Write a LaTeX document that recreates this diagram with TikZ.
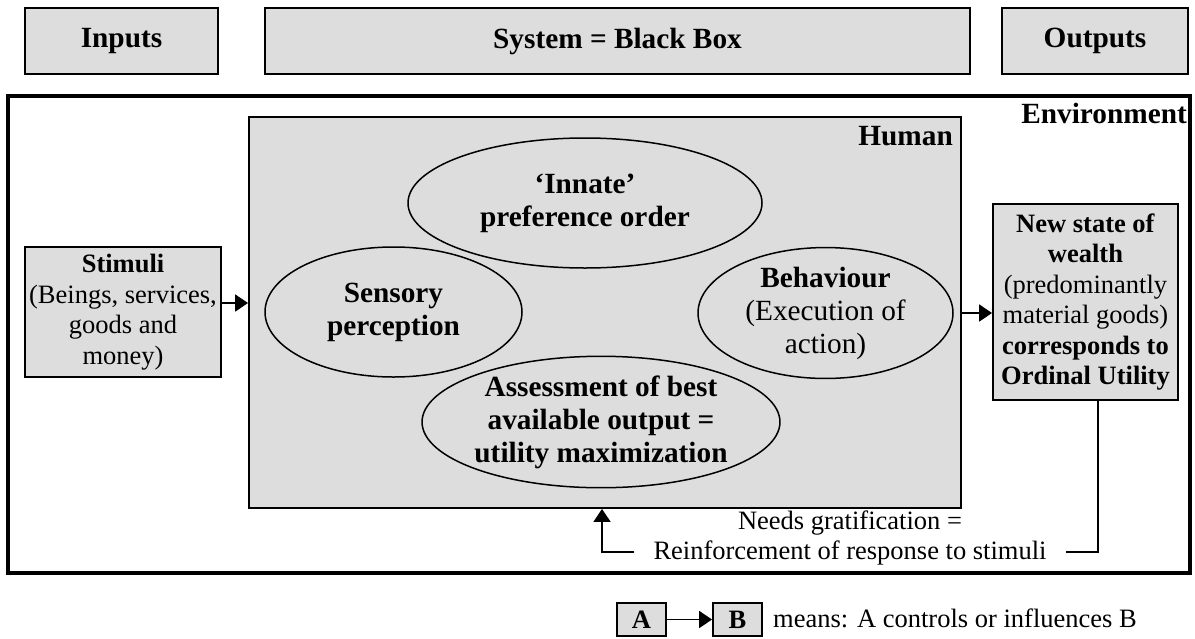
\documentclass[tikz,border=0pt]{standalone}
\usepackage{fontspec}
\setmainfont{Liberation Serif}
\usetikzlibrary{shapes.geometric,arrows.meta}
\definecolor{boxgray}{RGB}{221,221,221}
\begin{document}
\begin{tikzpicture}[x=1pt,y=-1pt,
  txt/.style={font=\fontsize{26.5}{30.5}\selectfont},
  big/.style={font=\fontsize{29.3}{33}\selectfont},
  hdr/.style={draw, line width=2pt, fill=boxgray, inner sep=0pt,
    minimum height=66pt, font=\fontsize{29.3}{33}\selectfont\bfseries},
  gbox/.style={draw, line width=1.8pt, fill=boxgray, inner sep=0pt, align=center, txt},
  oval/.style={ellipse, draw, line width=1.5pt, fill=boxgray, inner sep=0pt, align=center, big},
  link/.style={line width=1.6pt},
  arr/.style={link, -{Triangle[length=13pt,width=17pt]}}
]
\useasboundingbox (0,0) rectangle (1195,638);

% header row
\node[hdr, minimum width=193pt] (inputs)  at (121.5,41) {Inputs};
\node[hdr, minimum width=705pt] (system)  at (617.5,41) {System = Black Box};
\node[hdr, minimum width=186pt] (outputs) at (1095,41)  {Outputs};

% environment frame
\node[draw, line width=4pt, inner sep=0pt, minimum width=1182pt, minimum height=477pt] (env) at (599,334.5) {};
\node[big, font=\fontsize{29.3}{33}\selectfont\bfseries, anchor=base east, inner sep=0pt] (envlabel) at (1187,123) {Environment};

% the human
\node[gbox, minimum width=712pt, minimum height=391pt] (human) at (605,312.5) {};
\node[big, font=\fontsize{29.3}{33}\selectfont\bfseries, anchor=base east, inner sep=0pt] (humanlabel) at (953,145) {Human};

% inner processes
\node[oval, minimum width=354pt, minimum height=130pt] (innate) at (585,203)
  {\textbf{‘Innate’}\\\textbf{preference order}};
\node[oval, minimum width=257pt, minimum height=130pt] (sensory) at (393.5,312)
  {\textbf{Sensory}\\\textbf{perception}};
\node[oval, minimum width=255pt, minimum height=127pt] (behaviour) at (825.5,313)
  {\textbf{Behaviour}\\(Execution of\\action)};
\node[oval, minimum width=356pt, minimum height=131pt] (assess) at (601,422)
  {\textbf{Assessment of best}\\\textbf{available output =}\\\textbf{utility maximization}};

% input and output
\node[gbox, minimum width=196pt, minimum height=130pt] (stimuli) at (123,312)
  {\textbf{Stimuli}\\(Beings, services,\\goods and\\money)};
\node[gbox, minimum width=185pt, minimum height=196pt] (wealth) at (1085.5,302)
  {\textbf{New state of}\\\textbf{wealth}\\(predominantly\\material goods)\\\textbf{corresponds to}\\\textbf{Ordinal Utility}};

\draw[arr] ([yshift=9pt]stimuli.east) -- ([yshift=9pt]stimuli.east -| human.west);
\draw[arr] (human.east |- 0,313) -- (wealth.west |- 0,313);

% feedback loop
\node[txt, align=center, inner xsep=19pt, inner ysep=0pt] (fb) at (850,538)
  {Needs gratification =\\Reinforcement of response to stimuli};
\coordinate (fbR) at (1098,552);
\coordinate (fbL) at (602,552);
\draw[link] (wealth.south -| fbR) -- (fbR) -- (fbR -| fb.east);
\draw[arr] (fbL -| fb.west) -- (fbL) -- (fbL |- human.south);

% legend
\node[gbox, font=\fontsize{26.5}{30.5}\selectfont\bfseries, minimum width=49pt, minimum height=33pt] (legA) at (641.5,619.5) {A};
\node[gbox, font=\fontsize{26.5}{30.5}\selectfont\bfseries, minimum width=49pt, minimum height=33pt] (legB) at (737.5,619.5) {B};
\draw[arr] (legA) -- (legB);
\node[txt, anchor=west, inner sep=0pt] (legtext) at (773,618) {means: A controls or influences B};
\end{tikzpicture}
\end{document}
